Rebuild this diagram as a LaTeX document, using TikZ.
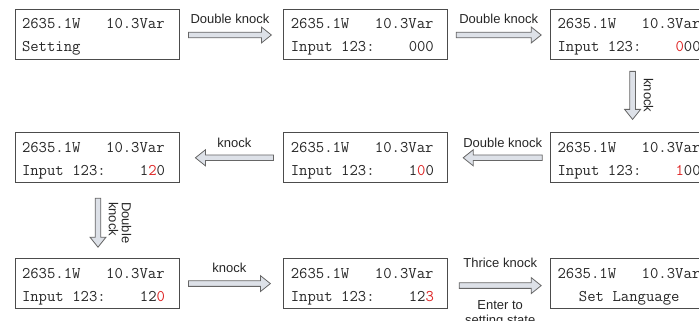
\documentclass[tikz,border=0pt]{standalone}
\usepackage{fontspec}
\setmainfont{Liberation Sans}
\usepackage{xcolor}
\usepackage{tikz}
\usetikzlibrary{positioning,calc}
\definecolor{cursorred}{RGB}{222,38,38}
\definecolor{arrowfill}{RGB}{221,225,232}
\newlength{\lcdcell}
\setlength{\lcdcell}{8.53pt}
\newcommand{\cur}[1]{\textcolor{cursorred}{#1}}
\newcommand{\gap}[1]{\hspace*{#1\lcdcell}}
\tikzset{
  lcdbox/.style={draw=black!70,line width=0.8pt,minimum width=164pt,minimum height=50pt,
    text width=150pt,inner xsep=7pt,align=left,text=black!85,text height=13pt,text depth=23.5pt,
    font=\ttfamily\fontsize{16.25}{23}\selectfont},
  fatarrow/.style={draw=black!60,fill=arrowfill,line width=0.8pt,line join=miter},
  knocklabel/.style={font=\fontsize{13}{15}\selectfont,text=black!85,inner sep=0pt}
}
\newcommand{\fatarrow}[2]{%
  \path (#1) coordinate (fa-s) (#2) coordinate (fa-e);
  \path ($(fa-e)!10pt!(fa-s)$) coordinate (fa-h);
  \draw[fatarrow] ($(fa-s)!2.8pt!90:(fa-e)$) -- ($(fa-h)!2.8pt!90:(fa-e)$)
    -- ($(fa-h)!8pt!90:(fa-e)$) -- (fa-e) -- ($(fa-h)!8pt!-90:(fa-e)$)
    -- ($(fa-h)!2.8pt!-90:(fa-e)$) -- ($(fa-s)!2.8pt!-90:(fa-e)$) -- cycle;
}

\begin{document}
\begin{tikzpicture}[x=1pt,y=1pt,node distance=73pt and 104pt]
  \useasboundingbox (0,0) rectangle (699,321);
  \clip (0,0) rectangle (699,321);
  % screens, row by row
  \node[lcdbox] (s1) at (97,287) {2635.1W\gap{3}10.3Var\\Setting};
  \node[lcdbox,right=of s1] (s2) {2635.1W\gap{3}10.3Var\\Input\gap{1}123:\gap{4}000};
  \node[lcdbox,right=102pt of s2] (s3) {2635.1W\gap{3}10.3Var\\Input\gap{1}123:\gap{4}\cur{0}00};
  \node[lcdbox,below=of s3] (s4) {2635.1W\gap{3}10.3Var\\Input\gap{1}123:\gap{4}\cur{1}00};
  \node[lcdbox,below=of s2] (s5) {2635.1W\gap{3}10.3Var\\Input\gap{1}123:\gap{4}1\cur{0}0};
  \node[lcdbox,below=of s1] (s6) {2635.1W\gap{3}10.3Var\\Input\gap{1}123:\gap{4}1\cur{2}0};
  \node[lcdbox,below=75pt of s6] (s7) {2635.1W\gap{3}10.3Var\\Input\gap{1}123:\gap{4}12\cur{0}};
  \node[lcdbox,below=75pt of s5] (s8) {2635.1W\gap{3}10.3Var\\Input\gap{1}123:\gap{4}12\cur{3}};
  \node[lcdbox,below=75pt of s4] (s9) {2635.1W\gap{3}10.3Var\\\gap{2.5}Set\gap{1}Language};
  % knocks
  \fatarrow{$(s1.east)+(9,-1)$}{$(s2.west)+(-12,-1)$}
  \node[knocklabel,anchor=base] at ($(fa-s)!.5!(fa-e)+(0,11)$) {Double knock};
  \fatarrow{$(s2.east)+(8,-1)$}{$(s3.west)+(-9,-1)$}
  \node[knocklabel,anchor=base] at ($(fa-s)!.5!(fa-e)+(0,11)$) {Double knock};
  \fatarrow{$(s3.south)+(0,-12)$}{$(s4.north)+(0,13)$}
  \node[knocklabel,rotate=-90] at ($(fa-s)!.5!(fa-e)+(16,0)$) {knock};
  \fatarrow{$(s4.west)+(-8,0)$}{$(s5.east)+(15,0)$}
  \node[knocklabel,anchor=base] at ($(fa-s)!.5!(fa-e)+(0,10)$) {Double knock};
  \fatarrow{$(s5.west)+(-10,0)$}{$(s6.east)+(16,0)$}
  \node[knocklabel,anchor=base] at ($(fa-s)!.5!(fa-e)+(0,10)$) {knock};
  \fatarrow{$(s6.south)+(1,-15)$}{$(s7.north)+(1,11)$}
  \node[knocklabel,rotate=-90,align=left,font=\fontsize{13}{13}\selectfont]
    at ($(fa-s)!.5!(fa-e)+(22,0)$) {Double\\knock};
  \fatarrow{$(s7.east)+(9,0)$}{$(s8.west)+(-13,0)$}
  \node[knocklabel,anchor=base] at ($(fa-s)!.5!(fa-e)+(0,11)$) {knock};
  \fatarrow{$(s8.east)+(11,-2)$}{$(s9.west)+(-9,-2)$}
  \node[knocklabel,anchor=base] at ($(fa-s)!.5!(fa-e)+(0,18)$) {Thrice knock};
  \node[knocklabel,anchor=north,align=center] at ($(fa-s)!.5!(fa-e)+(0,-15)$) {Enter to\\setting state};
\end{tikzpicture}
\end{document}
